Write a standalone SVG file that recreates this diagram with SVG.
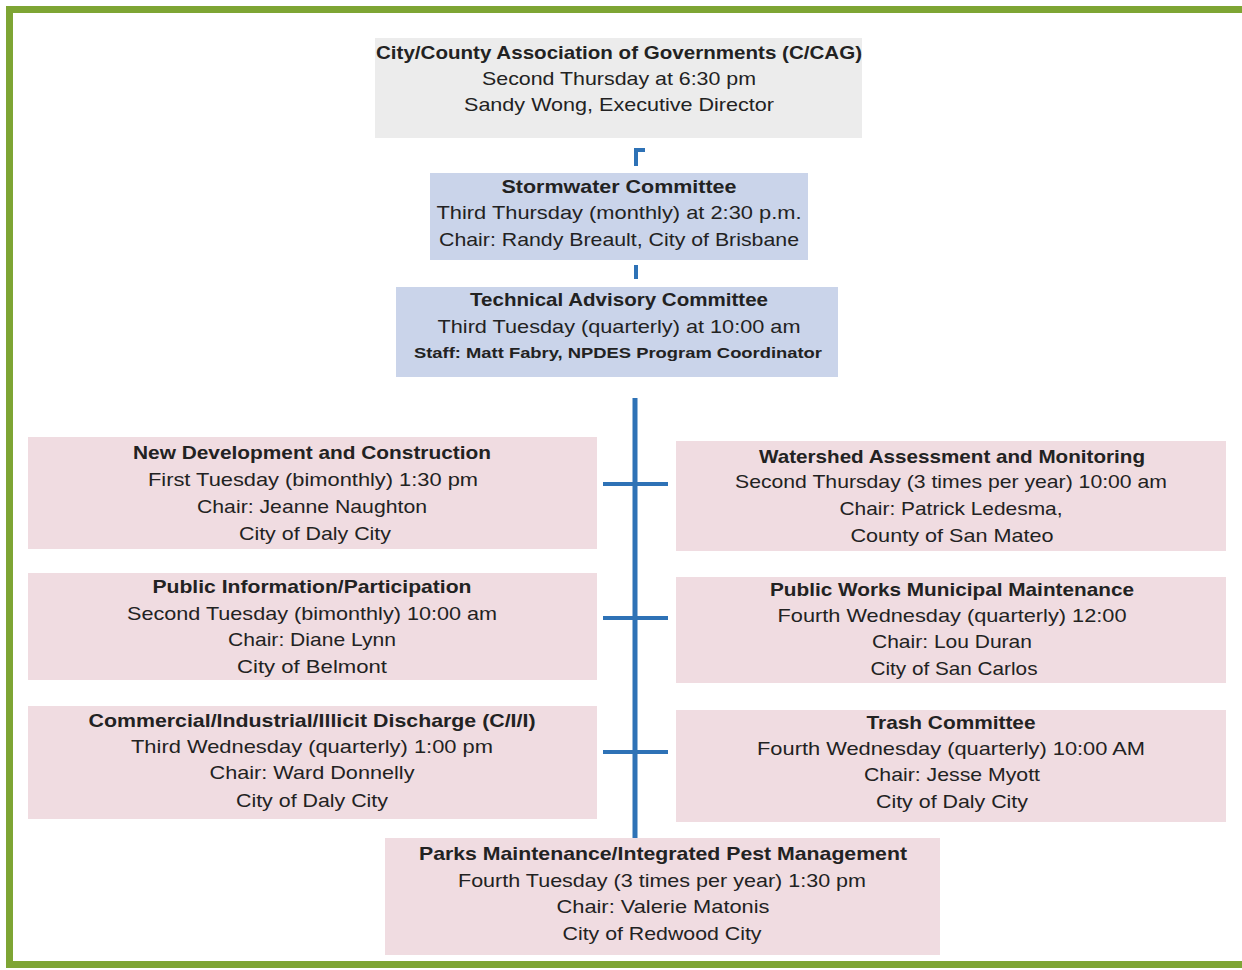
<svg xmlns="http://www.w3.org/2000/svg" width="1242" height="970" viewBox="0 0 1242 970">
<style>
text{font-family:"Liberation Sans",Arial,sans-serif;font-size:19px;fill:#222;text-anchor:middle}
.b{font-weight:bold}
.s{font-size:15px;font-weight:bold}
.gray{fill:#ececec}
.blue{fill:#cad4ea}
.pink{fill:#f0dce1}
.ln{stroke:#2e72b6;fill:none}
</style>
<rect x="0" y="0" width="1242" height="970" fill="#ffffff"/>
<g id="frame">
<rect x="9.5" y="9.5" width="1240" height="955" fill="none" stroke="#7ea534" stroke-width="7"/>
</g>
<g id="connectors">
<line class="ln" x1="636" y1="148" x2="636" y2="166" stroke-width="4"/>
<line class="ln" x1="636" y1="150" x2="645" y2="150" stroke-width="4"/>
<line class="ln" x1="636" y1="265" x2="636" y2="279" stroke-width="4"/>
<line class="ln" x1="635" y1="398" x2="635" y2="838" stroke-width="5"/>
<line class="ln" x1="603" y1="484" x2="668" y2="484" stroke-width="4"/>
<line class="ln" x1="603" y1="618" x2="668" y2="618" stroke-width="4"/>
<line class="ln" x1="603" y1="752" x2="668" y2="752" stroke-width="4"/>
</g>
<g id="ccag">
<rect class="gray" x="375" y="38" width="487" height="100"/>
<text class="b" x="619" y="59" textLength="486" lengthAdjust="spacingAndGlyphs">City/County Association of Governments (C/CAG)</text>
<text x="619" y="85" textLength="274" lengthAdjust="spacingAndGlyphs">Second Thursday at 6:30 pm</text>
<text x="619" y="111" textLength="310" lengthAdjust="spacingAndGlyphs">Sandy Wong, Executive Director</text>
</g>
<g id="stormwater">
<rect class="blue" x="430" y="173" width="378" height="87"/>
<text class="b" x="619" y="193" textLength="235" lengthAdjust="spacingAndGlyphs">Stormwater Committee</text>
<text x="619" y="219" textLength="365" lengthAdjust="spacingAndGlyphs">Third Thursday (monthly) at 2:30 p.m.</text>
<text x="619" y="246" textLength="360" lengthAdjust="spacingAndGlyphs">Chair: Randy Breault, City of Brisbane</text>
</g>
<g id="tac">
<rect class="blue" x="396" y="287" width="442" height="90"/>
<text class="b" x="619" y="306" textLength="298" lengthAdjust="spacingAndGlyphs">Technical Advisory Committee</text>
<text x="619" y="333" textLength="363" lengthAdjust="spacingAndGlyphs">Third Tuesday (quarterly) at 10:00 am</text>
<text class="s" x="618" y="358" textLength="408" lengthAdjust="spacingAndGlyphs">Staff: Matt Fabry, NPDES Program Coordinator</text>
</g>
<g id="ndc">
<rect class="pink" x="28" y="437" width="569" height="112"/>
<text class="b" x="312" y="459" textLength="358" lengthAdjust="spacingAndGlyphs">New Development and Construction</text>
<text x="313" y="486" textLength="330" lengthAdjust="spacingAndGlyphs">First Tuesday (bimonthly) 1:30 pm</text>
<text x="312" y="513" textLength="230" lengthAdjust="spacingAndGlyphs">Chair: Jeanne Naughton</text>
<text x="315" y="540" textLength="152" lengthAdjust="spacingAndGlyphs">City of Daly City</text>
</g>
<g id="wam">
<rect class="pink" x="676" y="441" width="550" height="110"/>
<text class="b" x="952" y="463" textLength="386" lengthAdjust="spacingAndGlyphs">Watershed Assessment and Monitoring</text>
<text x="951" y="488" textLength="432" lengthAdjust="spacingAndGlyphs">Second Thursday (3 times per year) 10:00 am</text>
<text x="951" y="515" textLength="223" lengthAdjust="spacingAndGlyphs">Chair: Patrick Ledesma,</text>
<text x="952" y="542" textLength="203" lengthAdjust="spacingAndGlyphs">County of San Mateo</text>
</g>
<g id="pip">
<rect class="pink" x="28" y="573" width="569" height="107"/>
<text class="b" x="312" y="593" textLength="319" lengthAdjust="spacingAndGlyphs">Public Information/Participation</text>
<text x="312" y="620" textLength="370" lengthAdjust="spacingAndGlyphs">Second Tuesday (bimonthly) 10:00 am</text>
<text x="312" y="646" textLength="168" lengthAdjust="spacingAndGlyphs">Chair: Diane Lynn</text>
<text x="312" y="673" textLength="150" lengthAdjust="spacingAndGlyphs">City of Belmont</text>
</g>
<g id="pwmm">
<rect class="pink" x="676" y="577" width="550" height="106"/>
<text class="b" x="952" y="596" textLength="364" lengthAdjust="spacingAndGlyphs">Public Works Municipal Maintenance</text>
<text x="952" y="622" textLength="349" lengthAdjust="spacingAndGlyphs">Fourth Wednesday (quarterly) 12:00</text>
<text x="952" y="648" textLength="160" lengthAdjust="spacingAndGlyphs">Chair: Lou Duran</text>
<text x="954" y="675" textLength="167" lengthAdjust="spacingAndGlyphs">City of San Carlos</text>
</g>
<g id="cii">
<rect class="pink" x="28" y="706" width="569" height="113"/>
<text class="b" x="312" y="727" textLength="447" lengthAdjust="spacingAndGlyphs">Commercial/Industrial/Illicit Discharge (C/I/I)</text>
<text x="312" y="753" textLength="362" lengthAdjust="spacingAndGlyphs">Third Wednesday (quarterly) 1:00 pm</text>
<text x="312" y="779" textLength="205" lengthAdjust="spacingAndGlyphs">Chair: Ward Donnelly</text>
<text x="312" y="807" textLength="152" lengthAdjust="spacingAndGlyphs">City of Daly City</text>
</g>
<g id="trash">
<rect class="pink" x="676" y="710" width="550" height="112"/>
<text class="b" x="951" y="729" textLength="169" lengthAdjust="spacingAndGlyphs">Trash Committee</text>
<text x="951" y="755" textLength="388" lengthAdjust="spacingAndGlyphs">Fourth Wednesday (quarterly) 10:00 AM</text>
<text x="952" y="781" textLength="176" lengthAdjust="spacingAndGlyphs">Chair: Jesse Myott</text>
<text x="952" y="808" textLength="152" lengthAdjust="spacingAndGlyphs">City of Daly City</text>
</g>
<g id="parks">
<rect class="pink" x="385" y="838" width="555" height="117"/>
<text class="b" x="663" y="860" textLength="488" lengthAdjust="spacingAndGlyphs">Parks Maintenance/Integrated Pest Management</text>
<text x="662" y="887" textLength="408" lengthAdjust="spacingAndGlyphs">Fourth Tuesday (3 times per year) 1:30 pm</text>
<text x="663" y="913" textLength="213" lengthAdjust="spacingAndGlyphs">Chair: Valerie Matonis</text>
<text x="662" y="940" textLength="199" lengthAdjust="spacingAndGlyphs">City of Redwood City</text>
</g>
</svg>
